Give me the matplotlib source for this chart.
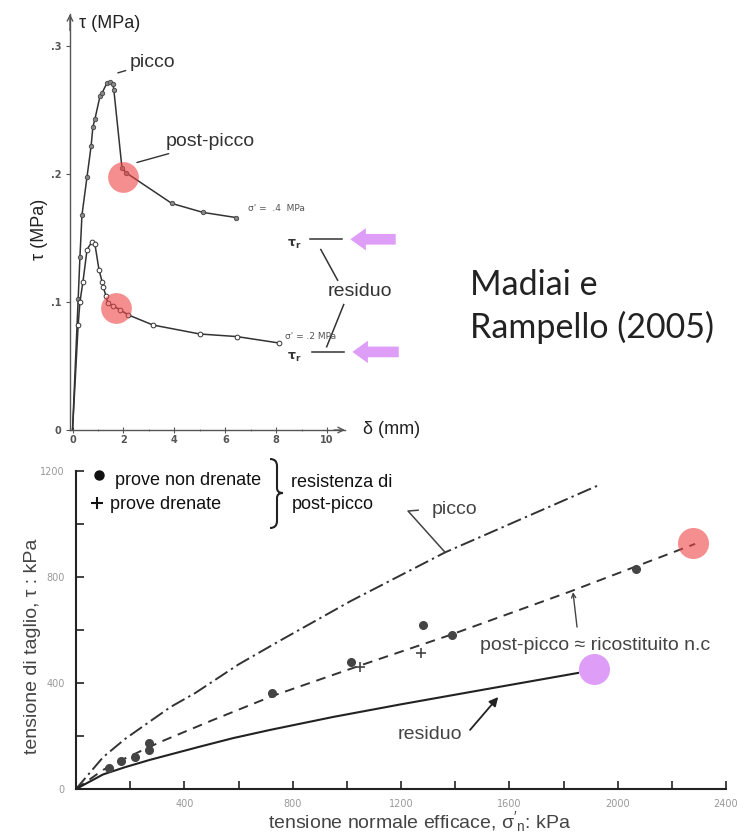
import matplotlib
matplotlib.use('Agg')
import matplotlib.pyplot as plt
from matplotlib.path import Path
import matplotlib.patches as mpatches

# ---------------- data: top plot (shear stress vs displacement) -------------
delta_04 = [0, 0.22, 0.29, 0.37, 0.57, 0.73, 0.80, 0.88, 1.08, 1.15, 1.35, 1.47,
            1.59, 1.62, 1.94, 2.10, 3.90, 5.12, 6.41]
tau_04 = [0, 0.102, 0.135, 0.168, 0.198, 0.222, 0.237, 0.243, 0.261, 0.263, 0.271,
          0.272, 0.270, 0.266, 0.205, 0.201, 0.177, 0.170, 0.166]
delta_02 = [0, 0.22, 0.29, 0.41, 0.57, 0.76, 0.88, 1.04, 1.16, 1.20, 1.31, 1.39,
            1.59, 1.86, 2.18, 3.16, 5.00, 6.45, 8.10]
tau_02 = [0, 0.082, 0.100, 0.116, 0.141, 0.147, 0.145, 0.125, 0.116, 0.112, 0.105,
          0.099, 0.097, 0.094, 0.090, 0.082, 0.075, 0.073, 0.068]
tau_residual = [0.149, 0.061]
top_xticks = [0, 2, 4, 6, 8, 10]
top_xticklabels = ['0', '2', '4', '6', '8', '10']
top_yticks = [0, 0.1, 0.2, 0.3]
top_yticklabels = ['0', '.1', '.2', '.3']
top_highlight_delta = [1.98, 1.71]
top_highlight_tau = [0.198, 0.095]

# ---------------- data: bottom plot (strength envelopes) -------------------
picco_sigma = [0, 100, 180, 273, 350, 440, 600, 750, 890, 1012, 1363, 1931]
picco_tau = [0, 120, 188, 255, 310, 362, 470, 558, 638, 708, 893, 1147]
postpicco_sigma = [0, 100, 180, 310, 500, 728, 1049, 1381, 1824, 2286]
postpicco_tau = [0, 72, 115, 177, 258, 352, 466, 581, 745, 925]
residuo_sigma = [0, 100, 180, 273, 458, 580, 717, 950, 1197, 1555, 1854]
residuo_tau = [0, 55, 82, 110, 160, 192, 223, 272, 319, 384, 438]
undrained_sigma = [122, 166, 218, 270, 270, 724, 1016, 1281, 1389, 2068]
undrained_tau = [79, 106, 121, 174, 147, 362, 479, 619, 581, 830]
drained_sigma = [1049, 1274]
drained_tau = [460, 513]
bot_xticks = [400, 800, 1200, 1600, 2000, 2400]
bot_xticklabels = ['400', '800', '1200', '1600', '2000', '2400']
bot_yticks = [0, 400, 800, 1200]
bot_yticklabels = ['0', '400', '800', '1200']

W, H = 750, 835
SANS = 'Liberation Sans'
DARK = '#333333'
RED = '#EF4444'
PINK = '#DE9DF7'

fig = plt.figure(figsize=(7.5, 8.35), dpi=100)


def box(x0, y0, x1, y1):
    return [x0 / W, 1 - y1 / H, (x1 - x0) / W, (y1 - y0) / H]


def fpos(x, y):
    return (x / W, 1 - y / H)


# ======================= TOP AXES =======================
axT = fig.add_axes(box(70, 14, 345, 430))
axT.set_xlim(-0.1, 10.7)
axT.set_ylim(0, 0.325)
for s in ('top', 'right'):
    axT.spines[s].set_visible(False)
for s in ('left', 'bottom'):
    axT.spines[s].set_color('#555555')
    axT.spines[s].set_linewidth(1.0)
axT.annotate('', xy=(1.0, 0), xycoords='axes fraction', xytext=(0.96, 0),
             arrowprops=dict(arrowstyle='->', color='#555555', lw=1.0,
                             shrinkA=0, shrinkB=0))
axT.annotate('', xy=(0, 1.0), xycoords='axes fraction', xytext=(0, 0.96),
             arrowprops=dict(arrowstyle='->', color='#555555', lw=1.0,
                             shrinkA=0, shrinkB=0))
axT.set_xticks(top_xticks)
axT.set_xticklabels(top_xticklabels)
axT.set_xticks([1, 3, 5, 7, 9], minor=True)
axT.set_yticks(top_yticks)
axT.set_yticklabels(top_yticklabels)
axT.tick_params(axis='x', which='major', direction='inout', length=5, width=0.8,
                labelsize=7, pad=1, colors='#555555')
axT.tick_params(axis='x', which='minor', direction='inout', length=2, width=0.6,
                colors='#777777')
axT.tick_params(axis='y', which='major', direction='out', length=3, width=0.8,
                labelsize=7, pad=3, colors='#555555')
for lab in axT.get_xticklabels() + axT.get_yticklabels():
    lab.set_fontweight('bold')

axT.plot(delta_04, tau_04, '-', color=DARK, lw=1.1, marker='o', ms=3.2,
         mfc='#888888', mec='#444444', mew=0.6,
         markevery=list(range(1, len(delta_04))), zorder=3)
axT.plot(delta_02, tau_02, '-', color=DARK, lw=1.1, marker='o', ms=3.4,
         mfc='white', mec='#333333', mew=0.7,
         markevery=list(range(1, len(delta_02))), zorder=3)

axT.scatter(top_highlight_delta, top_highlight_tau, s=490, color=RED, alpha=0.6,
            linewidths=0, zorder=5, clip_on=False)

axT.annotate('picco', xy=(1.78, 0.279), xytext=(2.25, 0.287), ha='left', va='center',
             fontsize=14, family=SANS, color=DARK,
             arrowprops=dict(arrowstyle='-', color=DARK, lw=1.0, shrinkA=1, shrinkB=0))
axT.annotate('post-picco', xy=(2.53, 0.209), xytext=(3.67, 0.225), ha='left',
             va='center', fontsize=14, family=SANS, color=DARK,
             arrowprops=dict(arrowstyle='-', color=DARK, lw=1.0, shrinkA=1, shrinkB=0))

axT.text(6.88, 0.173, "σ' =  .4  MPa", fontsize=6.5, color='#555555', ha='left',
         va='center', family='DejaVu Sans')
axT.text(8.33, 0.073, "σ' = .2 MPa", fontsize=6.5, color='#555555', ha='left',
         va='center', family='DejaVu Sans', clip_on=False)

# residual levels
for tr, tx, x0, x1 in zip(tau_residual, [8.69, 8.72], [9.31, 9.39], [10.6, 10.68]):
    axT.text(tx, tr - 0.004, r'$\mathbf{\tau_r}$', fontsize=9, color=DARK,
             ha='center', va='center', clip_on=False)
    axT.plot([x0, x1], [tr, tr], color=DARK, lw=1.1, clip_on=False)

axT.plot([9.75, 10.41], [0.141, 0.117], color=DARK, lw=1.1, clip_on=False)
axT.plot([10.65, 9.98], [0.098, 0.065], color=DARK, lw=1.1, clip_on=False)
axT.text(11.27, 0.108, 'residuo', fontsize=14, family=SANS, color=DARK,
         ha='center', va='center', clip_on=False)

for tr, tip, tail in zip(tau_residual, [10.80, 10.88], [12.80, 12.92]):
    arr = mpatches.FancyArrowPatch(
        (tail, tr), (tip, tr),
        arrowstyle=mpatches.ArrowStyle.Simple(head_length=0.8, head_width=1.15,
                                              tail_width=0.55),
        mutation_scale=14, color=PINK, lw=0, clip_on=False, zorder=6)
    axT.add_patch(arr)

fig.text(*fpos(79, 24), 'τ (MPa)', fontsize=13, family=SANS, color='#222222',
         ha='left', va='center')
fig.text(*fpos(363, 430), 'δ (mm)', fontsize=13, family=SANS, color='#222222',
         ha='left', va='center')
fig.text(*fpos(40, 229), 'τ (MPa)', fontsize=13, family=SANS, color='#222222',
         ha='center', va='center', rotation=90)

fig.text(*fpos(470, 285), 'Madiai e', fontsize=24.5, family='Lato', color='#222222',
         ha='left', va='center')
fig.text(*fpos(470, 327), 'Rampello (2005)', fontsize=24.5, family='Lato',
         color='#222222', ha='left', va='center')

# ======================= BOTTOM AXES =======================
axB = fig.add_axes(box(76, 471, 726, 789))
axB.set_xlim(0, 2400)
axB.set_ylim(0, 1200)
for s in ('top', 'right'):
    axB.spines[s].set_visible(False)
for s in ('left', 'bottom'):
    axB.spines[s].set_color('#222222')
    axB.spines[s].set_linewidth(1.5)
axB.set_xticks(bot_xticks)
axB.set_xticklabels(bot_xticklabels)
axB.set_xticks([200, 600, 1000, 1400, 1800, 2200], minor=True)
axB.set_yticks(bot_yticks)
axB.set_yticklabels(bot_yticklabels)
axB.set_yticks([200, 600, 1000], minor=True)
axB.tick_params(which='both', direction='in', length=6, width=1.2, color='#222222',
                labelsize=7, labelcolor='#999999')
axB.tick_params(axis='x', which='major', pad=7)
axB.tick_params(axis='y', which='major', pad=8)

axB.plot(picco_sigma, picco_tau, color=DARK, lw=1.4,
         linestyle=(0, (7.5, 2.2, 1.2, 2.2)))
axB.plot(postpicco_sigma, postpicco_tau, color=DARK, lw=1.4, linestyle=(0, (5, 3.5)))
axB.plot(residuo_sigma, residuo_tau, color='#222222', lw=1.5)
axB.plot(undrained_sigma, undrained_tau, 'o', color='#444444', ms=5.5, zorder=4)
axB.plot(drained_sigma, drained_tau, '+', color='#444444', ms=7, mew=1.2, zorder=4)

axB.scatter([2279], [928], s=500, color=RED, alpha=0.6, linewidths=0, zorder=5,
            clip_on=False)
axB.scatter([1913], [453], s=500, color=PINK, linewidths=0, zorder=5, clip_on=False)

# legend-like block
axB.plot([85], [1185], 'o', color='#111111', ms=6.5, clip_on=False)
axB.plot([78], [1079], '+', color='#111111', ms=8, mew=1.5, clip_on=False)
axB.text(144, 1166, 'prove non drenate', fontsize=13, family=SANS, color='#111111',
         ha='left', va='center', clip_on=False)
axB.text(126, 1072, 'prove drenate', fontsize=13, family=SANS, color='#111111',
         ha='left', va='center', clip_on=False)
axB.text(795, 1155, 'resistenza di', fontsize=13, family=SANS, color='#111111',
         ha='left', va='center', clip_on=False)
axB.text(795, 1072, 'post-picco', fontsize=13, family=SANS, color='#111111',
         ha='left', va='center', clip_on=False)

# annotations
axB.text(1315, 1053, 'picco', fontsize=14, family=SANS, color='#444444',
         ha='left', va='center')
axB.plot([1263, 1226, 1363], [1052, 1049, 893], color='#444444', lw=1.1)
axB.annotate('', xy=(1835, 743), xytext=(1850, 611),
             arrowprops=dict(arrowstyle='->,head_length=0.3,head_width=0.15',
                             color='#444444', lw=1.0, shrinkA=0, shrinkB=0))
axB.text(1492, 543, 'post-picco ≈ ricostituito n.c', fontsize=14, family=SANS,
         color='#444444', ha='left', va='center')
axB.annotate('', xy=(1559, 347), xytext=(1455, 223),
             arrowprops=dict(arrowstyle='-|>', color='#222222', lw=1.3,
                             mutation_scale=13, shrinkA=0, shrinkB=0))
axB.text(1186, 204, 'residuo', fontsize=14, family=SANS, color='#444444',
         ha='left', va='center')

fig.text(*fpos(420, 822), r"tensione normale efficace, $\mathregular{\sigma'_n}$: kPa",
         fontsize=14, family=SANS, color='#444444', ha='center', va='center')
fig.text(*fpos(33, 646), 'tensione di taglio, τ : kPa', fontsize=14, family=SANS,
         color='#444444', ha='center', va='center', rotation=90)

# brace (overlay in pixel coordinates)
ov = fig.add_axes([0, 0, 1, 1])
ov.set_xlim(0, W)
ov.set_ylim(H, 0)
ov.axis('off')
ov.patch.set_alpha(0)
verts = [(270, 459), (277, 459), (277, 466), (277, 488), (277, 493), (283, 493),
         (277, 493), (277, 498), (277, 521), (277, 528), (270, 528)]
codes = [Path.MOVETO, Path.CURVE3, Path.CURVE3, Path.LINETO, Path.CURVE3, Path.CURVE3,
         Path.CURVE3, Path.CURVE3, Path.LINETO, Path.CURVE3, Path.CURVE3]
ov.add_patch(mpatches.PathPatch(Path(verts, codes), fill=False, lw=1.5,
                                edgecolor='#222222'))

fig.savefig('out.png', dpi=100)
